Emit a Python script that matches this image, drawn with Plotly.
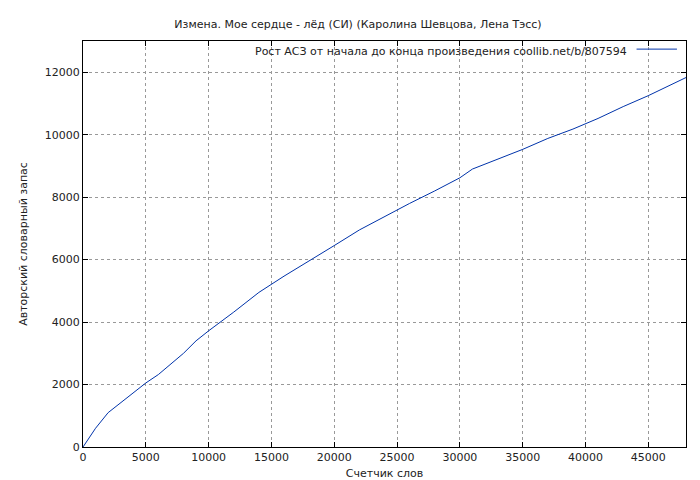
import plotly.graph_objects as go

# Word counter vs. author vocabulary
words = [0, 1000, 2000, 3000, 4000, 5000, 6000, 7000, 8000, 9000, 10000, 12000, 14000,
         16000, 18000, 20000, 22000, 24000, 26000, 28000, 30000, 31000, 33000, 35000,
         37000, 39000, 41000, 43000, 45000, 47000, 48000]
vocab = [0, 600, 1100, 1420, 1750, 2050, 2320, 2650, 3000, 3400, 3720, 4320, 4950,
         5470, 5950, 6450, 6950, 7380, 7800, 8200, 8620, 8900, 9220, 9530,
         9880, 10180, 10520, 10900, 11250, 11620, 11830]

line_color = '#0033aa'
font = dict(family='DejaVu Sans', size=11, color='#222')

fig = go.Figure()
fig.add_trace(go.Scatter(x=words, y=vocab, mode='lines',
                         line=dict(color=line_color, width=1), showlegend=False))

axis_common = dict(showline=True, linecolor='black', linewidth=1, mirror='allticks',
                   ticks='inside', ticklen=5, tickcolor='black', tickformat='d',
                   showgrid=True, gridcolor='#999', griddash='dot', gridwidth=1,
                   zeroline=False, tickfont=font, automargin=False)

fig.update_layout(
    width=700, height=480,
    margin=dict(l=75, r=22, t=33, b=41),
    paper_bgcolor='white', plot_bgcolor='white',
    font=font,
    title=dict(text='Измена. Мое сердце - лёд (СИ) (Каролина Шевцова, Лена Тэсс)',
               x=0.5, xanchor='center', y=0.975, font=font),
    xaxis=dict(range=[0, 48000], dtick=5000,
               title=dict(text='Счетчик слов', standoff=6, font=font), **axis_common),
    yaxis=dict(range=[0, 13000], dtick=2000,
               title=dict(text='Авторский словарный запас', standoff=14, font=font), **axis_common),
)

# gnuplot-style key: text, then line sample on the right
fig.add_annotation(xref='paper', yref='paper', x=0.905, y=0.995, xanchor='right', yanchor='top',
                   text='Рост АСЗ от начала до конца произведения coollib.net/b/807594',
                   showarrow=False, font=font)
fig.add_shape(type='line', xref='paper', yref='paper', x0=0.918, x1=0.985, y0=0.98, y1=0.98,
              line=dict(color=line_color, width=1))

fig.write_html("out.html")
